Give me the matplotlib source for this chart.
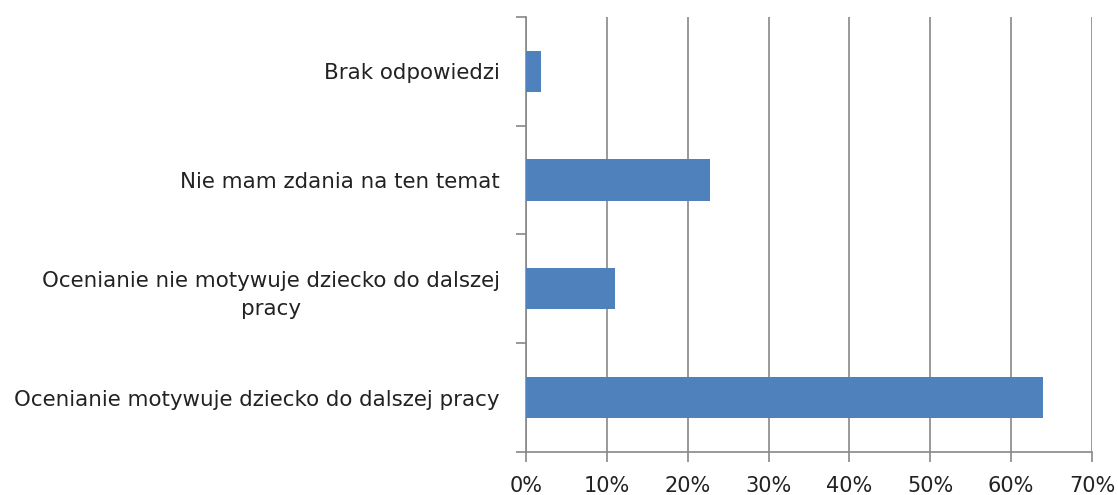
import matplotlib.pyplot as plt
import numpy as np

# dane
kategorie = ["Ocenianie motywuje dziecko do dalszej pracy",
             "Ocenianie nie motywuje dziecko do dalszej\npracy",
             "Nie mam zdania na ten temat",
             "Brak odpowiedzi"]
wartosci = [63.9, 11.0, 22.8, 1.8]
procenty = [0, 10, 20, 30, 40, 50, 60, 70]

plt.rcParams['font.family'] = ['DejaVu Sans']

fig = plt.figure(figsize=(11.18, 4.95), dpi=100)
ax = fig.add_axes([0.4705, 0.087, 0.5062, 0.879])

y = np.arange(len(kategorie))
ax.barh(y, wartosci, height=0.38, color='#4f81bd', zorder=3)

ax.set_xlim(0, 70)
ax.set_ylim(-0.5, 3.5)
ax.set_xticks(procenty)
ax.set_xticklabels([f"{p}%" for p in procenty], fontsize=15, color='#222222')
ax.set_yticks(y)
ax.set_yticklabels(kategorie, fontsize=15.4, color='#222222', multialignment='center',
                   linespacing=1.5)
ax.set_yticks(np.arange(-0.5, 4, 1), minor=True)
ax.tick_params(axis='y', which='major', length=0, pad=19)
ax.tick_params(axis='y', which='minor', length=7, color='#888888', width=1.2)
ax.tick_params(axis='x', length=7, color='#888888', width=1.2, pad=10)

ax.grid(axis='x', color='#888888', linewidth=1.2, zorder=0)
for s in ['top', 'right']:
    ax.spines[s].set_visible(False)
for s in ['left', 'bottom']:
    ax.spines[s].set_color('#888888')
    ax.spines[s].set_linewidth(1.2)

fig.savefig('out.png', dpi=100)
